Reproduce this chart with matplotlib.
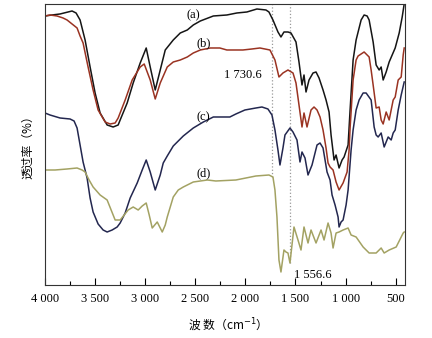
"""
红外光谱图 (a)-(d) 的再现
"""

import matplotlib

matplotlib.use("Agg")  # 不使用GUI后端
import matplotlib.pyplot as plt
from matplotlib.ticker import MultipleLocator

# 波数 (cm-1) 与透过率 (任意单位)
wn_a = [4000, 3930, 3850, 3770, 3730, 3690, 3650, 3600, 3550, 3500, 3450, 3380, 3320, 3270,
        3250, 3180, 3120, 3050, 2990, 2950, 2900, 2850, 2800, 2720, 2650, 2580, 2520, 2450,
        2320, 2185, 2085, 1985, 1885, 1795, 1765, 1725, 1675, 1645, 1615, 1575, 1545, 1495,
        1465, 1435, 1415, 1395, 1365, 1325, 1295, 1265, 1225, 1195, 1165, 1145, 1115, 1095,
        1065, 1035, 1015, 975, 955, 925, 895, 845, 815, 785, 765, 725, 695, 665, 645, 625,
        595, 565, 535, 505, 465, 435, 415]
t_a = [269, 270, 271, 273, 274, 272, 265, 245, 218, 192, 172, 160, 158, 160,
       165, 182, 202, 222, 237, 218, 195, 215, 235, 245, 252, 255, 260, 264,
       269, 270, 272, 273, 276, 275, 273, 265, 253, 248, 253, 253, 252, 243,
       223, 200, 210, 193, 205, 212, 213, 207, 195, 185, 173, 150, 125, 130,
       117, 125, 128, 140, 175, 225, 245, 265, 270, 269, 265, 243, 220, 215, 218, 205,
       213, 223, 230, 237, 252, 268, 281]

wn_b = [4000, 3950, 3880, 3820, 3780, 3730, 3680, 3650, 3620, 3570, 3520, 3470, 3400, 3350,
        3300, 3270, 3200, 3130, 3050, 3010, 2950, 2900, 2850, 2780, 2720, 2650, 2580, 2520,
        2450, 2350, 2255, 2185, 2105, 2025, 1935, 1855, 1755, 1705, 1665, 1625, 1575, 1525,
        1495, 1465, 1435, 1415, 1385, 1345, 1315, 1285, 1255, 1225, 1195, 1175, 1155, 1125,
        1095, 1065, 1025, 985, 965, 955, 925, 895, 875, 815, 765, 745, 725, 695, 665, 645,
        625, 595, 565, 525, 505, 475, 445, 425, 415]
t_b = [269, 270, 269, 267, 265, 261, 257, 249, 242, 218, 195, 175, 163, 161,
       162, 167, 185, 205, 218, 221, 205, 186, 202, 218, 223, 225, 228, 232,
       235, 237, 237, 235, 235, 235, 236, 237, 235, 225, 208, 212, 215, 212,
       202, 180, 158, 172, 158, 175, 178, 175, 168, 155, 137, 122, 118, 115,
       103, 95, 102, 113, 135, 157, 205, 225, 229, 233, 228, 215, 200, 177, 178, 165,
       161, 173, 165, 185, 188, 205, 208, 230, 237]

wn_c = [4000, 3950, 3850, 3750, 3710, 3680, 3650, 3620, 3580, 3550, 3520, 3470, 3420, 3380,
        3330, 3280, 3250, 3200, 3150, 3080, 3030, 2990, 2950, 2900, 2850, 2820, 2780, 2720,
        2620, 2520, 2420, 2320, 2225, 2155, 2095, 2005, 1895, 1835, 1775, 1735, 1705, 1675,
        1655, 1625, 1605, 1555, 1525, 1485, 1455, 1435, 1405, 1375, 1335, 1285, 1255, 1225,
        1185, 1155, 1135, 1105, 1075, 1065, 1045, 1025, 995, 975, 945, 925, 895, 865, 825,
        795, 745, 715, 695, 675, 645, 615, 575, 545, 525, 505, 475, 445, 415]
t_c = [172, 170, 167, 166, 164, 157, 140, 123, 107, 87, 73, 61, 55, 53,
       55, 58, 62, 72, 87, 102, 115, 125, 113, 95, 110, 122, 129, 139,
       149, 157, 163, 168, 168, 168, 171, 175, 177, 178, 176, 170, 155, 135,
       120, 137, 150, 157, 153, 145, 123, 133, 127, 110, 120, 140, 142, 137,
       113, 105, 90, 80, 68, 58, 63, 65, 80, 95, 135, 155, 175, 185, 192,
       192, 185, 158, 150, 148, 152, 138, 148, 145, 152, 155, 175, 190, 203]

wn_d = [4000, 3900, 3780, 3680, 3630, 3600, 3560, 3520, 3450, 3380, 3340, 3300, 3250, 3210,
        3170, 3120, 3070, 3030, 2990, 2960, 2930, 2880, 2830, 2800, 2780, 2720, 2670, 2620,
        2520, 2380, 2295, 2095, 1895, 1765, 1725, 1705, 1685, 1665, 1645, 1615, 1595, 1575,
        1555, 1515, 1475, 1445, 1415, 1375, 1345, 1295, 1245, 1215, 1175, 1145, 1125, 1095,
        1065, 1025, 975, 945, 895, 825, 765, 695, 645, 615, 565, 495, 425, 415]
t_d = [115, 115, 116, 117, 115, 113, 105, 98, 90, 85, 75, 65, 65, 70,
       75, 78, 75, 79, 82, 70, 57, 63, 53, 60, 68, 88, 95, 98,
       103, 105, 104, 105, 109, 110, 108, 95, 68, 25, 13, 35, 33, 32,
       22, 58, 45, 35, 58, 42, 55, 42, 55, 45, 62, 52, 37, 52,
       53, 55, 57, 50, 48, 38, 32, 32, 37, 32, 35, 38, 52, 53]

spectra = [
    (wn_a, t_a, "#151515"),
    (wn_b, t_b, "#9a3322"),
    (wn_c, t_c, "#23274f"),
    (wn_d, t_d, "#a3a263"),
]

# 曲线标记与标注
curve_labels = ["(a)", "(b)", "(c)", "(d)"]
label_pos = [(2520, 270), (2420, 242), (2420, 168), (2420, 112)]
marks = [1730.6, 1556.6]
mark_texts = ["1 730.6", "1 556.6"]
mark_bottom = [108, 22]

SERIF = ["Liberation Serif", "DejaVu Serif"]
CJK = ["Noto Sans CJK SC", "DejaVu Sans"]


def create_graph():
    fig = plt.figure(figsize=(4.32, 3.38), dpi=100)
    ax = fig.add_axes([0.1042, 0.1568, 0.8333, 0.8314])

    # 标记线 (虚线)
    for wn, y0 in zip(marks, mark_bottom):
        ax.vlines(wn, y0, 281, colors="#9a9a9a", linestyles=":", linewidth=0.9)

    for wn, t, color in spectra:
        ax.plot(wn, t, color=color, linewidth=1.1)

    for text, (x, y) in zip(curve_labels, label_pos):
        ax.text(x, y, text, family=SERIF, fontsize=9, ha="center", va="center")

    ax.text(2025, 210, mark_texts[0], family=SERIF, fontsize=9, ha="center", va="center")
    ax.text(1325, 10, mark_texts[1], family=SERIF, fontsize=9, ha="center", va="center")

    # 坐标轴设置
    ax.set_xlim(4000, 407)
    ax.set_ylim(0, 281)
    ax.xaxis.set_minor_locator(MultipleLocator(250))
    ax.set_xticks(range(4000, 499, -500))
    ax.set_xticklabels(["4 000", "3 500", "3 000", "2 500", "2 000", "1 500", "1 000", "500"],
                       family=SERIF, fontsize=9)
    ax.tick_params(axis="x", which="major", direction="in", length=5, width=0.8, pad=6)
    ax.tick_params(axis="x", which="minor", direction="in", length=3, width=0.8)
    ax.set_yticks([])
    for sp in ax.spines.values():
        sp.set_color("#333333")
        sp.set_linewidth(0.8)

    ax.set_xlabel("波 数（cm$^{-1}$）", family=CJK, fontsize=8.5, labelpad=8)
    ax.set_ylabel("透过率（%）", family=CJK, fontsize=8.5, labelpad=8)

    fig.savefig("out.png", dpi=100)
    plt.close(fig)


if __name__ == "__main__":
    create_graph()
